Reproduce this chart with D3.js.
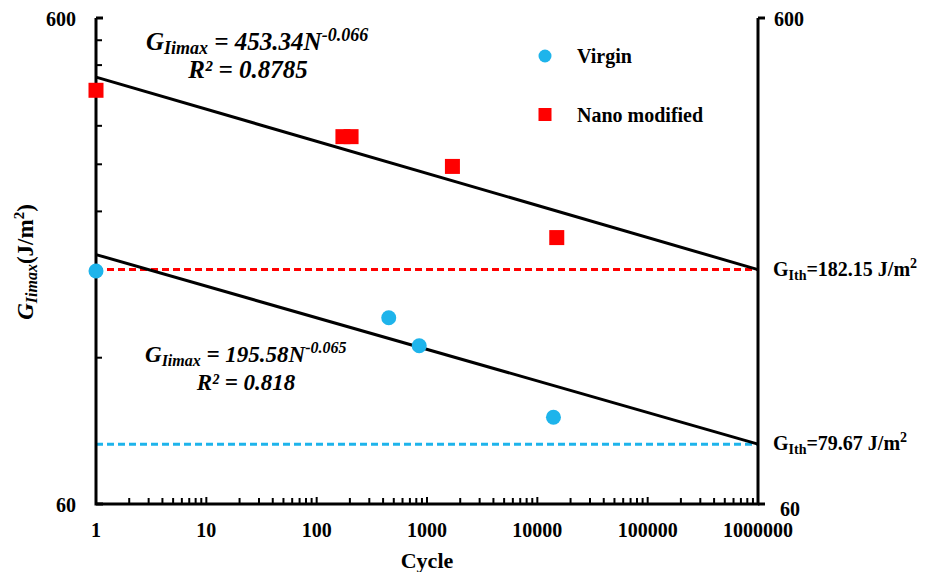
<!DOCTYPE html>
<html>
<head>
<meta charset="utf-8">
<script src="https://cdn.jsdelivr.net/npm/d3@7"></script>
<style>
  body { margin: 0; background: #fff; }
  svg text { font-family: "Liberation Serif", "Times New Roman", serif; font-weight: bold; }
</style>
</head>
<body>
<div id="chart"></div>
<script>
let width = 935, height = 572;

// Data
let virginCycles = [1, 450, 850, 14000];
let virginG = [181, 145, 127, 90.5];
let nanoCycles = [1, 173, 205, 1700, 15000];
let nanoG = [426, 342, 342, 297, 212];

// Power-law fits G = a * N^b
let fitA = [453.34, 195.58];
let fitB = [-0.066, -0.065];
let fitR2 = ["0.8785", "0.818"];

// Threshold values at N = 1e6
let thresholds = [182.15, 79.67];
let thresholdColors = ["#ff0000", "#1eb4eb"];

let xTicks = [1, 10, 100, 1000, 10000, 100000, 1000000];
let yTicks = [60, 600];

let margin = {top: 18, right: 177, bottom: 68, left: 96};
let iw = width - margin.left - margin.right,
    ih = height - margin.top - margin.bottom;

let svg = d3.select("#chart").append("svg")
    .attr("width", width)
    .attr("height", height);

let g = svg.append("g").attr("transform", `translate(${margin.left},${margin.top})`);

let x = d3.scaleLog().domain([1, 1000000]).range([0, iw]);
let y = d3.scaleLog().domain([60, 600]).range([ih, 0]);

// Threshold dashed lines
g.selectAll(".thr")
    .data(thresholds)
    .enter().append("line")
    .attr("x1", 0).attr("x2", iw)
    .attr("y1", d => y(d)).attr("y2", d => y(d))
    .attr("stroke", (d, i) => thresholdColors[i])
    .attr("stroke-width", 3)
    .attr("stroke-dasharray", "7,4");

// Fit lines
fitA.forEach((a, i) => {
    let ends = [1, 1000000];
    g.append("line")
        .attr("x1", x(ends[0])).attr("y1", y(a * Math.pow(ends[0], fitB[i])))
        .attr("x2", x(ends[1])).attr("y2", y(a * Math.pow(ends[1], fitB[i])))
        .attr("stroke", "#000")
        .attr("stroke-width", 3);
});

// Axes (Excel-style log ticks)
let xMinor = [];
xTicks.slice(0, -1).forEach(t => { for (let k = 2; k <= 9; k++) xMinor.push(t * k); });
let yMinor = d3.range(2, 10).map(k => 60 * k);

let xAxis = g.append("g").attr("transform", `translate(0,${ih})`);
xAxis.selectAll(".minor").data(xMinor).enter().append("line")
    .attr("x1", d => x(d)).attr("x2", d => x(d))
    .attr("y1", 0).attr("y2", -6)
    .attr("stroke", "#000").attr("stroke-width", 2);
xAxis.selectAll(".major").data(xTicks).enter().append("line")
    .attr("x1", d => x(d)).attr("x2", d => x(d))
    .attr("y1", 0).attr("y2", -7)
    .attr("stroke", "#000").attr("stroke-width", 2);
xAxis.selectAll("text").data(xTicks).enter().append("text")
    .attr("x", d => x(d)).attr("y", 33)
    .attr("text-anchor", "middle")
    .attr("font-size", 20)
    .text(d => d);

let yAxis = g.append("g");
yAxis.selectAll(".minor").data(yMinor).enter().append("line")
    .attr("x1", 0).attr("x2", 6)
    .attr("y1", d => y(d)).attr("y2", d => y(d))
    .attr("stroke", "#000").attr("stroke-width", 2);
yAxis.selectAll(".major").data(yTicks).enter().append("line")
    .attr("x1", 0).attr("x2", 7)
    .attr("y1", d => y(d)).attr("y2", d => y(d))
    .attr("stroke", "#000").attr("stroke-width", 3);
yAxis.selectAll("text").data(yTicks).enter().append("text")
    .attr("x", -20).attr("y", d => y(d) + 8)
    .attr("text-anchor", "end")
    .attr("font-size", 20)
    .text(d => d);

let yAxisR = g.append("g").attr("transform", `translate(${iw},0)`);
yAxisR.selectAll(".major").data(yTicks).enter().append("line")
    .attr("x1", 0).attr("x2", 7)
    .attr("y1", d => y(d)).attr("y2", d => y(d))
    .attr("stroke", "#000").attr("stroke-width", 3);
yAxisR.selectAll("text").data(yTicks).enter().append("text")
    .attr("x", d => d === 600 ? 16 : 22).attr("y", d => y(d) + (d === 600 ? 8 : 12))
    .attr("text-anchor", "start")
    .attr("font-size", 20)
    .text(d => d);

// Axis lines
g.append("path")
    .attr("d", `M0,0V${ih}H${iw}V0`)
    .attr("fill", "none")
    .attr("stroke", "#000")
    .attr("stroke-width", 3);

// Data markers
g.selectAll(".virgin")
    .data(virginCycles.map((c, i) => ({c: c, v: virginG[i]})))
    .enter().append("circle")
    .attr("cx", d => x(d.c)).attr("cy", d => y(d.v))
    .attr("r", 7.5)
    .attr("fill", "#1eb4eb");

let sq = 15;
g.selectAll(".nano")
    .data(nanoCycles.map((c, i) => ({c: c, v: nanoG[i]})))
    .enter().append("rect")
    .attr("x", d => x(d.c) - sq / 2).attr("y", d => y(d.v) - sq / 2)
    .attr("width", sq).attr("height", sq)
    .attr("fill", "#ff0000");

// Equations
function equation(xPos, yPos, a, b, r2, fs, rx) {
    let small = Math.round(fs * 0.7);
    let t = svg.append("text")
        .attr("x", xPos).attr("y", yPos)
        .attr("font-size", fs)
        .attr("font-style", "italic");
    t.append("tspan").text("G");
    t.append("tspan").attr("font-size", small).attr("dy", 4).text("Iimax");
    t.append("tspan").attr("dy", -4).text(" = " + a + "N");
    t.append("tspan").attr("font-size", small).attr("dy", -9).text(b);
    svg.append("text")
        .attr("x", rx).attr("y", yPos + 28)
        .attr("text-anchor", "middle")
        .attr("font-size", fs)
        .attr("font-style", "italic")
        .text("R² = " + r2);
}
equation(146, 50, fitA[0], fitB[0], fitR2[0], 25, 248);
equation(145, 362, fitA[1], fitB[1], fitR2[1], 23, 246);

// Threshold labels
thresholds.forEach((v, i) => {
    let t = svg.append("text")
        .attr("x", margin.left + iw + 15)
        .attr("y", margin.top + y(v) + 6)
        .attr("font-size", 20);
    t.append("tspan").text("G");
    t.append("tspan").attr("font-size", 14).attr("dy", 4).text("Ith");
    t.append("tspan").attr("dy", -4).text("=" + v.toFixed(2) + " J/m");
    t.append("tspan").attr("font-size", 14).attr("dy", -8).text("2");
});

// Legend
let legend = svg.append("g").attr("transform", "translate(545,56)");
legend.append("circle").attr("cx", 0).attr("cy", 0).attr("r", 6.5).attr("fill", "#1eb4eb");
legend.append("text").attr("x", 32).attr("y", 7).attr("font-size", 20).text("Virgin");
legend.append("rect").attr("x", -6.5).attr("y", 52).attr("width", 13).attr("height", 13).attr("fill", "#ff0000");
legend.append("text").attr("x", 32).attr("y", 66).attr("font-size", 20).text("Nano modified");

// Axis titles
svg.append("text")
    .attr("x", margin.left + x(1000)).attr("y", 568)
    .attr("text-anchor", "middle")
    .attr("font-size", 22)
    .text("Cycle");

let yt = svg.append("text")
    .attr("transform", "translate(33,262) rotate(-90)")
    .attr("text-anchor", "middle")
    .attr("font-size", 23);
yt.append("tspan").attr("font-style", "italic").text("G");
yt.append("tspan").attr("font-style", "italic").attr("font-size", 16).attr("dy", 4).text("Iimax");
yt.append("tspan").attr("dy", -4).text("(J/m");
yt.append("tspan").attr("font-size", 15).attr("dy", -9).text("2");
yt.append("tspan").attr("dy", 9).text(")");
</script>
</body>
</html>
